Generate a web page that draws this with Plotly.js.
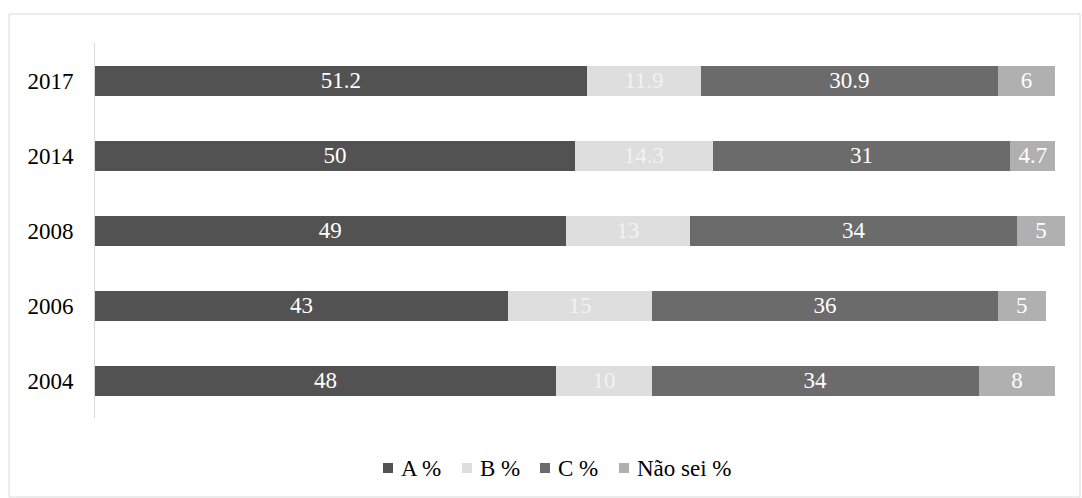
<!DOCTYPE html>
<html>
<head>
<meta charset="utf-8">
<script src="https://cdn.plot.ly/plotly-3.0.1.min.js"></script>
<style>
  html, body { margin: 0; padding: 0; background: #ffffff; }
  #chart { width: 1082px; height: 498px; }
</style>
</head>
<body>
<div id="chart"></div>
<script>
// Survey years (bottom to top) and answer shares in percent
const years = ['2004', '2006', '2008', '2014', '2017'];
const seriesNames = ['A %', 'B %', 'C %', 'Não sei %'];
const valuesA = [48, 43, 49, 50, 51.2];
const valuesB = [10, 15, 13, 14.3, 11.9];
const valuesC = [34, 36, 34, 31, 30.9];
const valuesNaoSei = [8, 5, 5, 4.7, 6];

const seriesValues = [valuesA, valuesB, valuesC, valuesNaoSei];
const barColors = ['#525252', '#dedede', '#6b6b6b', '#b0b0b0'];
const labelColors = ['#ffffff', '#f2f2f2', '#ffffff', '#ffffff'];

const serif = 'Liberation Serif';
const W = 1082, H = 498;
const M = { l: 95, r: 17, t: 43, b: 80 };
const plotW = W - M.l - M.r, plotH = H - M.t - M.b;
// pixel -> paper coordinate helpers for the frame and the legend row
const px = x => (x - M.l) / plotW;
const py = y => (H - M.b - y) / plotH;

const traces = seriesValues.map((vals, i) => ({
  type: 'bar',
  orientation: 'h',
  name: seriesNames[i],
  y: years,
  x: vals,
  text: vals.map(v => String(v)),
  textposition: 'inside',
  insidetextanchor: 'middle',
  textangle: 0,
  constraintext: 'none',
  insidetextfont: { family: serif, size: 23, color: labelColors[i] },
  marker: { color: barColors[i], line: { width: 0 } },
  hoverinfo: 'skip'
}));

// Legend row: small squares followed by the series names
const legendSquares = [383, 462, 540, 619];
const legendTexts = [399, 478, 556, 635];
const legendY = 468;

const shapes = [{
  type: 'rect', xref: 'paper', yref: 'paper',
  x0: px(9), x1: px(1080), y0: py(497), y1: py(14),
  line: { color: '#d9d9d9', width: 1 },
  fillcolor: 'rgba(0,0,0,0)', layer: 'below'
}];
const annotations = [];
seriesNames.forEach((name, i) => {
  shapes.push({
    type: 'rect', xref: 'paper', yref: 'paper',
    x0: px(legendSquares[i]), x1: px(legendSquares[i] + 10),
    y0: py(legendY + 5), y1: py(legendY - 5),
    line: { width: 0 }, fillcolor: barColors[i]
  });
  annotations.push({
    xref: 'paper', yref: 'paper',
    x: px(legendTexts[i]), y: py(legendY),
    xanchor: 'left', yanchor: 'middle',
    text: name, showarrow: false,
    font: { family: serif, size: 23, color: '#000000' }
  });
});

const layout = {
  width: W,
  height: H,
  margin: M,
  paper_bgcolor: '#ffffff',
  plot_bgcolor: '#ffffff',
  barmode: 'stack',
  bargap: 0.6,
  showlegend: false,
  font: { family: serif, size: 23, color: '#000000' },
  xaxis: {
    range: [0, 101],
    showgrid: false,
    zeroline: false,
    showline: false,
    showticklabels: false,
    ticks: '',
    fixedrange: true
  },
  yaxis: {
    type: 'category',
    categoryorder: 'array',
    categoryarray: years,
    showgrid: false,
    zeroline: false,
    showline: true,
    linecolor: '#d9d9d9',
    linewidth: 1,
    ticks: '',
    ticklabelstandoff: 16,
    tickfont: { family: serif, size: 23, color: '#000000' },
    fixedrange: true
  },
  shapes: shapes,
  annotations: annotations
};

Plotly.newPlot('chart', traces, layout, { displayModeBar: false, staticPlot: true });
</script>
</body>
</html>
